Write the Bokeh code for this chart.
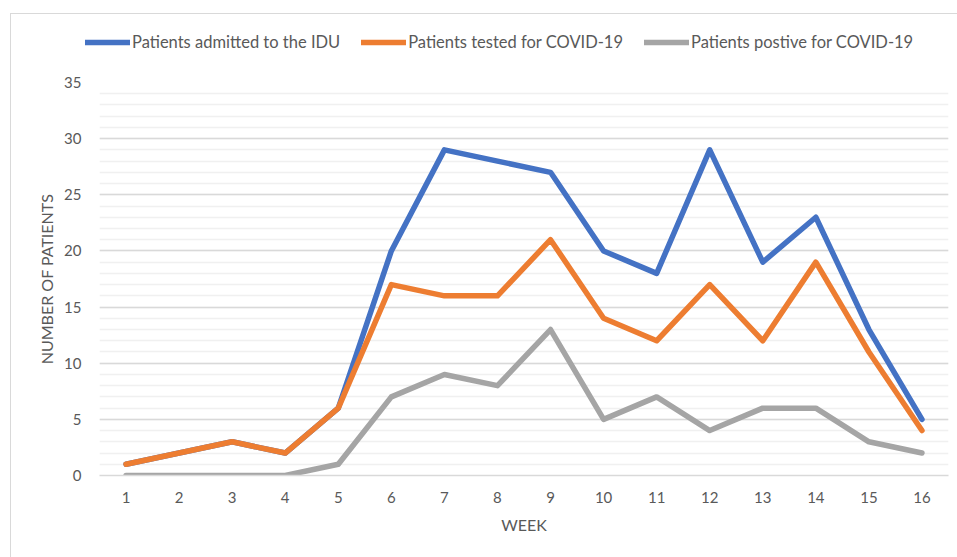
from bokeh.plotting import figure
from bokeh.layouts import column
from bokeh.models import Legend, LegendItem, FixedTicker, ColumnDataSource, Range1d
from bokeh.embed import file_html
from bokeh.resources import INLINE

weeks = list(range(1, 17))
week_labels = [str(w) for w in weeks]
admitted = [1, 2, 3, 2, 6, 20, 29, 28, 27, 20, 18, 29, 19, 23, 13, 5]
tested = [1, 2, 3, 2, 6, 17, 16, 16, 21, 14, 12, 17, 12, 19, 11, 4]
positive = [0, 0, 0, 0, 1, 7, 9, 8, 13, 5, 7, 4, 6, 6, 3, 2]
series_names = ["Patients admitted to the IDU", "Patients tested for COVID-19",
                "Patients postive for COVID-19"]
colors = ["#4472C4", "#ED7D31", "#A5A5A5"]
y_max = 35

FONT = "Lato"
TXT = "#595959"
LW = 5.5

# legend strip above the chart (its proxy lines lie outside its visible range)
lg = figure(width=946, height=58, output_backend="svg", toolbar_location=None,
            x_range=Range1d(0, 1), y_range=Range1d(0, 1),
            x_axis_type=None, y_axis_type=None,
            min_border_left=0, min_border_right=0, min_border_top=0, min_border_bottom=0)
lg.frame_align = False
lg.outline_line_color = None
lg.xgrid.grid_line_color = None
lg.ygrid.grid_line_color = None
proxies = [lg.line(x=[5, 6], y=[5, 5], line_color=c, line_width=LW, line_cap="round")
           for c in colors]
legend = Legend(items=[LegendItem(label=n, renderers=[r]) for n, r in zip(series_names, proxies)],
                orientation="horizontal", location=(74, 20),
                glyph_width=45, glyph_height=18, label_standoff=2, spacing=21,
                padding=0, margin=0, border_line_color=None, background_fill_alpha=0,
                label_text_font=FONT, label_text_font_size="16.5px", label_text_color=TXT)
lg.add_layout(legend, "center")

p = figure(width=946, height=485, output_backend="svg", toolbar_location=None,
           x_range=(0.5, 16.5), y_range=(0, y_max),
           min_border_left=88, min_border_right=9, min_border_top=10, min_border_bottom=82)
p.frame_align = False
p.outline_line_color = None

for vals, c in zip([admitted, tested, positive], colors):
    src = ColumnDataSource(dict(x=weeks, y=vals))
    p.line("x", "y", source=src, line_color=c, line_width=LW,
           line_cap="round", line_join="round")

p.xaxis.ticker = FixedTicker(ticks=weeks)
p.xaxis.major_label_overrides = {w: l for w, l in zip(weeks, week_labels)}
p.yaxis.ticker = FixedTicker(ticks=list(range(0, y_max + 1, 5)),
                             minor_ticks=list(range(0, y_max + 1)))

for ax in (p.xaxis, p.yaxis):
    ax.major_tick_line_color = None
    ax.minor_tick_line_color = None
    ax.major_label_text_font = FONT
    ax.major_label_text_font_size = "15px"
    ax.major_label_text_color = TXT
    ax.axis_label_text_font = FONT
    ax.axis_label_text_font_size = "16px"
    ax.axis_label_text_color = TXT
    ax.axis_label_text_font_style = "normal"
p.yaxis.axis_line_color = None
p.xaxis.axis_line_color = "#d9d9d9"
p.xaxis.axis_line_width = 1.5
p.yaxis.major_label_standoff = 12
p.xaxis.major_label_standoff = 10
p.yaxis.axis_label = "NUMBER OF PATIENTS"
p.xaxis.axis_label = "WEEK"
p.yaxis.axis_label_standoff = 5
p.xaxis.axis_label_standoff = 9

p.xgrid.grid_line_color = None
p.ygrid.grid_line_color = "#d9d9d9"
p.ygrid.grid_line_width = 1.3
p.ygrid.minor_grid_line_color = "#f0f0f0"
p.ygrid.minor_grid_line_width = 1.3

layout = column(lg, p, spacing=0,
                styles={"border-top": "1px solid #d9d9d9", "border-left": "1px solid #d9d9d9",
                        "margin-left": "10px", "margin-top": "13px"})

open("out.html", "w").write(file_html(layout, INLINE))
